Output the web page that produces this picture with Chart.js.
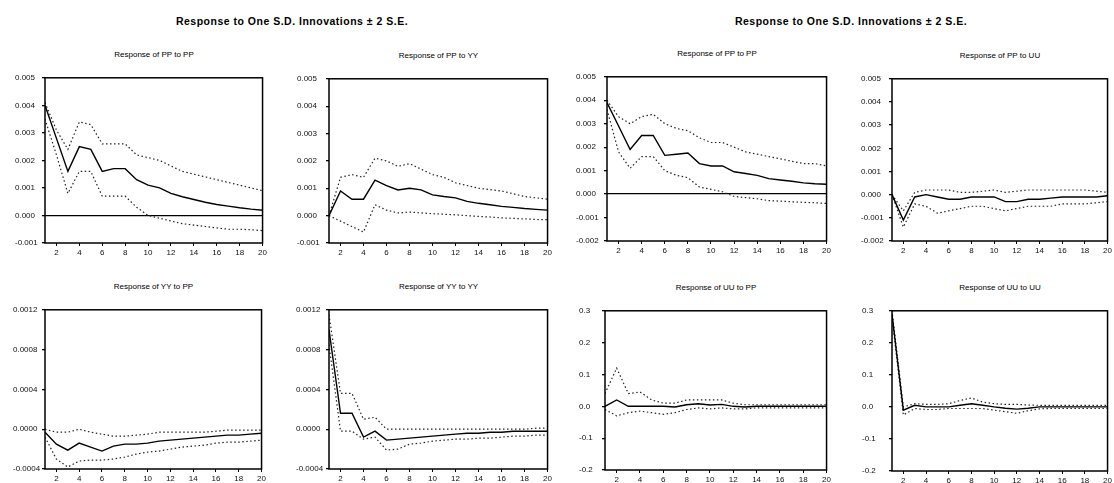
<!DOCTYPE html>
<html>
<head>
<meta charset="utf-8">
<script src="https://cdn.jsdelivr.net/npm/chart.js@4.4.1/dist/chart.umd.min.js"></script>
<style>
  html, body { margin: 0; padding: 0; background: #fff; }
  body { width: 1114px; height: 483px; position: relative; overflow: hidden;
         font-family: 'Liberation Sans', Arial, sans-serif; color: #000; }
  .main { position: absolute; top: 15px; font-size: 10.5px; font-weight: bold; letter-spacing: 0.5px;
          white-space: nowrap; transform: translateX(-50%); }
  .sub { position: absolute; font-size: 8px; white-space: nowrap; transform: translate(-50%, -50%); }
  .box { position: absolute; }
</style>
</head>
<body>
<div class="main" style="left:292px">Response to One S.D. Innovations ± 2 S.E.</div>
<div class="main" style="left:851px">Response to One S.D. Innovations ± 2 S.E.</div>

<script>
// periods on the x axis and the labelled ones
const periods = [1, 2, 3, 4, 5, 6, 7, 8, 9, 10, 11, 12, 13, 14, 15, 16, 17, 18, 19, 20];
const xTicks = [2, 4, 6, 8, 10, 12, 14, 16, 18, 20];

// y tick values per panel type
const ppTicks = [0.005, 0.004, 0.003, 0.002, 0.001, 0, -0.001];
const ppTicksWide = [0.005, 0.004, 0.003, 0.002, 0.001, 0, -0.001, -0.002];
const yyTicks = [0.0012, 0.0008, 0.0004, 0, -0.0004];
const uuTicks = [0.3, 0.2, 0.1, 0, -0.1, -0.2];

// left block: response of PP to PP
const ppPpResp  = [0.0040, 0.0028, 0.0016, 0.0025, 0.0024, 0.0016, 0.0017, 0.0017, 0.0013, 0.0011, 0.0010, 0.0008, 0.00068, 0.00058, 0.00048, 0.0004, 0.00034, 0.00028, 0.00023, 0.00019];
const ppPpUpper = [0.0041, 0.0031, 0.0024, 0.0034, 0.0033, 0.0026, 0.0026, 0.0026, 0.0022, 0.0021, 0.0020, 0.0018, 0.0016, 0.0015, 0.0014, 0.0013, 0.0012, 0.0011, 0.0010, 0.0009];
const ppPpLower = [0.0035, 0.0022, 0.0008, 0.0016, 0.0016, 0.0007, 0.0007, 0.0007, 0.0003, 0.0000, -0.0001, -0.0002, -0.0003, -0.00035, -0.0004, -0.00045, -0.0005, -0.0005, -0.00052, -0.00055];

// response of PP to YY
const ppYyResp  = [0.0, 0.0009, 0.0006, 0.0006, 0.0013, 0.0011, 0.00094, 0.0010, 0.00094, 0.00076, 0.0007, 0.00065, 0.00052, 0.00045, 0.0004, 0.00034, 0.0003, 0.00026, 0.00023, 0.0002];
const ppYyUpper = [0.0, 0.0014, 0.0015, 0.0014, 0.0021, 0.0020, 0.0018, 0.0019, 0.0017, 0.0015, 0.0014, 0.0012, 0.0011, 0.0010, 0.00095, 0.0009, 0.0008, 0.0007, 0.00065, 0.0006];
const ppYyLower = [0.0, -0.0002, -0.0004, -0.0006, 0.0004, 0.0002, 0.0001, 0.00013, 0.0001, 0.00007, 0.00005, 0.00003, 0.0, -0.00003, -0.00005, -0.00008, -0.0001, -0.00012, -0.00014, -0.00015];

// right block: response of PP to PP
const ppPp2Resp  = [0.0039, 0.0029, 0.0019, 0.0025, 0.0025, 0.00165, 0.0017, 0.00175, 0.0013, 0.0012, 0.0012, 0.00095, 0.00088, 0.0008, 0.00066, 0.0006, 0.00055, 0.00048, 0.00044, 0.00042];
const ppPp2Upper = [0.0040, 0.0033, 0.0030, 0.0033, 0.0034, 0.0030, 0.0028, 0.0027, 0.0024, 0.0022, 0.0022, 0.0020, 0.0018, 0.0017, 0.0016, 0.0015, 0.0014, 0.0013, 0.0013, 0.0012];
const ppPp2Lower = [0.0036, 0.0018, 0.0011, 0.0016, 0.0016, 0.0010, 0.0008, 0.0007, 0.0003, 0.0002, 0.0001, -0.0001, -0.00015, -0.0002, -0.00028, -0.0003, -0.00033, -0.00035, -0.00037, -0.0004];

// response of PP to UU
const ppUuResp  = [0.0, -0.0011, -0.0001, 0.0, -0.0001, -0.0002, -0.0002, -0.0001, -0.0001, -0.0001, -0.0003, -0.0003, -0.0002, -0.0002, -0.00015, -0.0001, -0.0001, -0.0001, -0.0001, -0.00005];
const ppUuUpper = [0.0, -0.0007, 0.0001, 0.0002, 0.0002, 0.0002, 0.0001, 0.0001, 0.00015, 0.0002, 0.0001, 0.00015, 0.0002, 0.0002, 0.0002, 0.0002, 0.0002, 0.0002, 0.00015, 0.0001];
const ppUuLower = [0.0, -0.0014, -0.0004, -0.0005, -0.0008, -0.0007, -0.0006, -0.0005, -0.0005, -0.0006, -0.0007, -0.0006, -0.0005, -0.0005, -0.0005, -0.0004, -0.0004, -0.0004, -0.00035, -0.0003];

// response of YY to PP
const yyPpResp  = [-0.00003, -0.00015, -0.00021, -0.00014, -0.00018, -0.00022, -0.00017, -0.00015, -0.00015, -0.00014, -0.00012, -0.00011, -0.0001, -0.00009, -0.00008, -0.00007, -0.00006, -0.00006, -0.00005, -0.00004];
const yyPpUpper = [0.0, -0.00003, -0.00003, 0.0, -0.00003, -0.00005, -0.00007, -0.00007, -0.00006, -0.00005, -0.00003, -0.00003, -0.00003, -0.00003, -0.00003, -0.00002, -0.00001, -0.00001, -0.00001, -0.00001];
const yyPpLower = [-0.00008, -0.0003, -0.00038, -0.00032, -0.00031, -0.00031, -0.0003, -0.00028, -0.00025, -0.00023, -0.00022, -0.0002, -0.00018, -0.00017, -0.00016, -0.00014, -0.00013, -0.00013, -0.00012, -0.00011];

// response of YY to YY
const yyYyResp  = [0.0010, 0.00016, 0.00016, -0.00008, -0.00002, -0.00011, -0.0001, -0.00009, -0.00008, -0.00007, -0.00006, -0.00005, -0.00004, -0.00004, -0.00003, -0.00003, -0.00002, -0.00002, -0.00002, -0.00002];
const yyYyUpper = [0.00115, 0.00036, 0.00036, 0.0001, 0.00012, 0.0, 0.0, 0.0, 0.0, 0.0, 0.0, 0.0, 0.0, 0.0, 0.0, 0.0, 0.0, 0.0, 0.00001, 0.00001];
const yyYyLower = [0.00085, -0.00002, -0.00002, -0.0001, -0.00008, -0.00021, -0.0002, -0.00015, -0.00014, -0.00012, -0.00011, -0.0001, -0.0001, -0.00009, -0.00009, -0.00008, -0.00007, -0.00007, -0.00006, -0.00006];

// response of UU to PP
const uuPpResp  = [0.0, 0.02, 0.0, 0.0, 0.0, 0.0, -0.002, 0.005, 0.008, 0.004, 0.006, 0.0, -0.002, 0.0, 0.0, 0.0, 0.0, 0.0, 0.0, 0.0];
const uuPpUpper = [0.04, 0.12, 0.04, 0.045, 0.02, 0.01, 0.01, 0.02, 0.02, 0.02, 0.02, 0.01, 0.005, 0.005, 0.005, 0.005, 0.005, 0.005, 0.005, 0.005];
const uuPpLower = [-0.01, -0.03, -0.02, -0.015, -0.02, -0.025, -0.02, -0.01, -0.005, -0.008, -0.005, -0.008, -0.008, -0.005, -0.005, -0.005, -0.005, -0.005, -0.005, -0.005];

// response of UU to UU
const uuUuResp  = [0.29, -0.01, 0.005, 0.0, 0.0, 0.0, 0.005, 0.01, 0.005, 0.0, -0.004, -0.007, -0.004, 0.0, 0.0, 0.0, 0.0, 0.0, 0.0, 0.0];
const uuUuUpper = [0.30, 0.0, 0.01, 0.008, 0.008, 0.01, 0.02, 0.028, 0.015, 0.01, 0.008, 0.008, 0.006, 0.005, 0.005, 0.005, 0.005, 0.005, 0.005, 0.005];
const uuUuLower = [0.28, -0.025, -0.005, -0.008, -0.008, -0.005, -0.005, -0.005, -0.005, -0.01, -0.015, -0.02, -0.012, -0.006, -0.005, -0.005, -0.005, -0.005, -0.005, -0.005];

const panels = [
  { title: 'Response of PP to PP', resp: ppPpResp, upper: ppPpUpper, lower: ppPpLower, ticks: ppTicks, digits: 3, zero: true,
    labelLeft: 15, left: 45, right: 263, top: 76, bottom: 243 },
  { title: 'Response of PP to YY', resp: ppYyResp, upper: ppYyUpper, lower: ppYyLower, ticks: ppTicks, digits: 3, zero: false,
    labelLeft: 297, left: 329, right: 548, top: 77, bottom: 243 },
  { title: 'Response of PP to PP', resp: ppPp2Resp, upper: ppPp2Upper, lower: ppPp2Lower, ticks: ppTicksWide, digits: 3, zero: true,
    labelLeft: 576, left: 607, right: 827, top: 75, bottom: 241 },
  { title: 'Response of PP to UU', resp: ppUuResp, upper: ppUuUpper, lower: ppUuLower, ticks: ppTicksWide, digits: 3, zero: false,
    labelLeft: 861, left: 892, right: 1108, top: 77, bottom: 241 },
  { title: 'Response of YY to PP', resp: yyPpResp, upper: yyPpUpper, lower: yyPpLower, ticks: yyTicks, digits: 4, zero: false,
    labelLeft: 13, left: 45, right: 262, top: 308, bottom: 469 },
  { title: 'Response of YY to YY', resp: yyYyResp, upper: yyYyUpper, lower: yyYyLower, ticks: yyTicks, digits: 4, zero: false,
    labelLeft: 296, left: 329, right: 548, top: 308, bottom: 469 },
  { title: 'Response of UU to PP', resp: uuPpResp, upper: uuPpUpper, lower: uuPpLower, ticks: uuTicks, digits: 1, zero: false,
    labelLeft: 579, left: 605, right: 827, top: 309, bottom: 470 },
  { title: 'Response of UU to UU', resp: uuUuResp, upper: uuUuUpper, lower: uuUuLower, ticks: uuTicks, digits: 1, zero: false,
    labelLeft: 862, left: 892, right: 1108, top: 309, bottom: 471 }
];

const framePlugin = {
  id: 'frame',
  afterDraw(chart) {
    const { ctx, chartArea: a } = chart;
    ctx.save();
    ctx.strokeStyle = '#000';
    ctx.lineWidth = 1.5;
    ctx.strokeRect(a.left, a.top, a.right - a.left, a.bottom - a.top);
    ctx.restore();
  }
};

const tickFont = { family: "'Liberation Sans', Arial, sans-serif", size: 8 };
const PAD_TOP = 6, PAD_RIGHT = 6, X_AXIS_H = 16;

function toPoints(arr) {
  return periods.map((t, i) => ({ x: t, y: arr[i] }));
}

function band(label, arr) {
  return {
    label: label,
    data: toPoints(arr),
    borderColor: '#222',
    borderWidth: 1.2,
    borderDash: [1.5, 2.5],
    pointRadius: 0,
    fill: false,
    tension: 0
  };
}

function makePanel(p) {
  const w = p.right - p.labelLeft + PAD_RIGHT;
  const h = p.bottom - p.top + PAD_TOP + X_AXIS_H;

  const box = document.createElement('div');
  box.className = 'box';
  box.style.left = p.labelLeft + 'px';
  box.style.top = (p.top - PAD_TOP) + 'px';
  const canvas = document.createElement('canvas');
  canvas.width = w;
  canvas.height = h;
  canvas.style.width = w + 'px';
  canvas.style.height = h + 'px';
  box.appendChild(canvas);
  document.body.appendChild(box);

  const sub = document.createElement('div');
  sub.className = 'sub';
  sub.textContent = p.title;
  sub.style.left = ((p.left + p.right) / 2) + 'px';
  sub.style.top = (p.top - 22) + 'px';
  document.body.appendChild(sub);

  new Chart(canvas.getContext('2d'), {
    type: 'line',
    data: {
      datasets: [
        {
          label: 'Response',
          data: toPoints(p.resp),
          borderColor: '#000',
          borderWidth: 1.4,
          pointRadius: 0,
          fill: false,
          tension: 0
        },
        band('+2 S.E.', p.upper),
        band('-2 S.E.', p.lower)
      ]
    },
    options: {
      responsive: false,
      animation: false,
      devicePixelRatio: 1,
      layout: { padding: { top: PAD_TOP, right: PAD_RIGHT, left: 0, bottom: 0 } },
      plugins: {
        legend: { display: false },
        tooltip: { enabled: false },
        title: { display: false }
      },
      scales: {
        x: {
          type: 'linear',
          min: 1,
          max: 20,
          afterBuildTicks: (scale) => { scale.ticks = xTicks.map(v => ({ value: v })); },
          afterFit: (scale) => { scale.height = X_AXIS_H; },
          border: { display: false },
          grid: { drawOnChartArea: false, tickLength: 3, tickColor: '#000', lineWidth: 1 },
          ticks: { font: tickFont, color: '#111', padding: 2, maxRotation: 0, autoSkip: false }
        },
        y: {
          type: 'linear',
          min: Math.min(...p.ticks),
          max: Math.max(...p.ticks),
          afterBuildTicks: (scale) => { scale.ticks = p.ticks.map(v => ({ value: v })); },
          afterFit: (scale) => { scale.width = p.left - p.labelLeft; },
          border: { display: false },
          grid: {
            drawOnChartArea: p.zero,
            color: (ctx) => (ctx.tick && ctx.tick.value === 0) ? '#000' : 'rgba(0,0,0,0)',
            lineWidth: 1.3,
            tickLength: 3,
            tickColor: '#000'
          },
          ticks: {
            font: tickFont,
            color: '#111',
            crossAlign: 'far',
            autoSkip: false,
            callback: (v) => Number(v).toFixed(p.digits)
          }
        }
      }
    },
    plugins: [framePlugin]
  });
}

panels.forEach(makePanel);
</script>
</body>
</html>
